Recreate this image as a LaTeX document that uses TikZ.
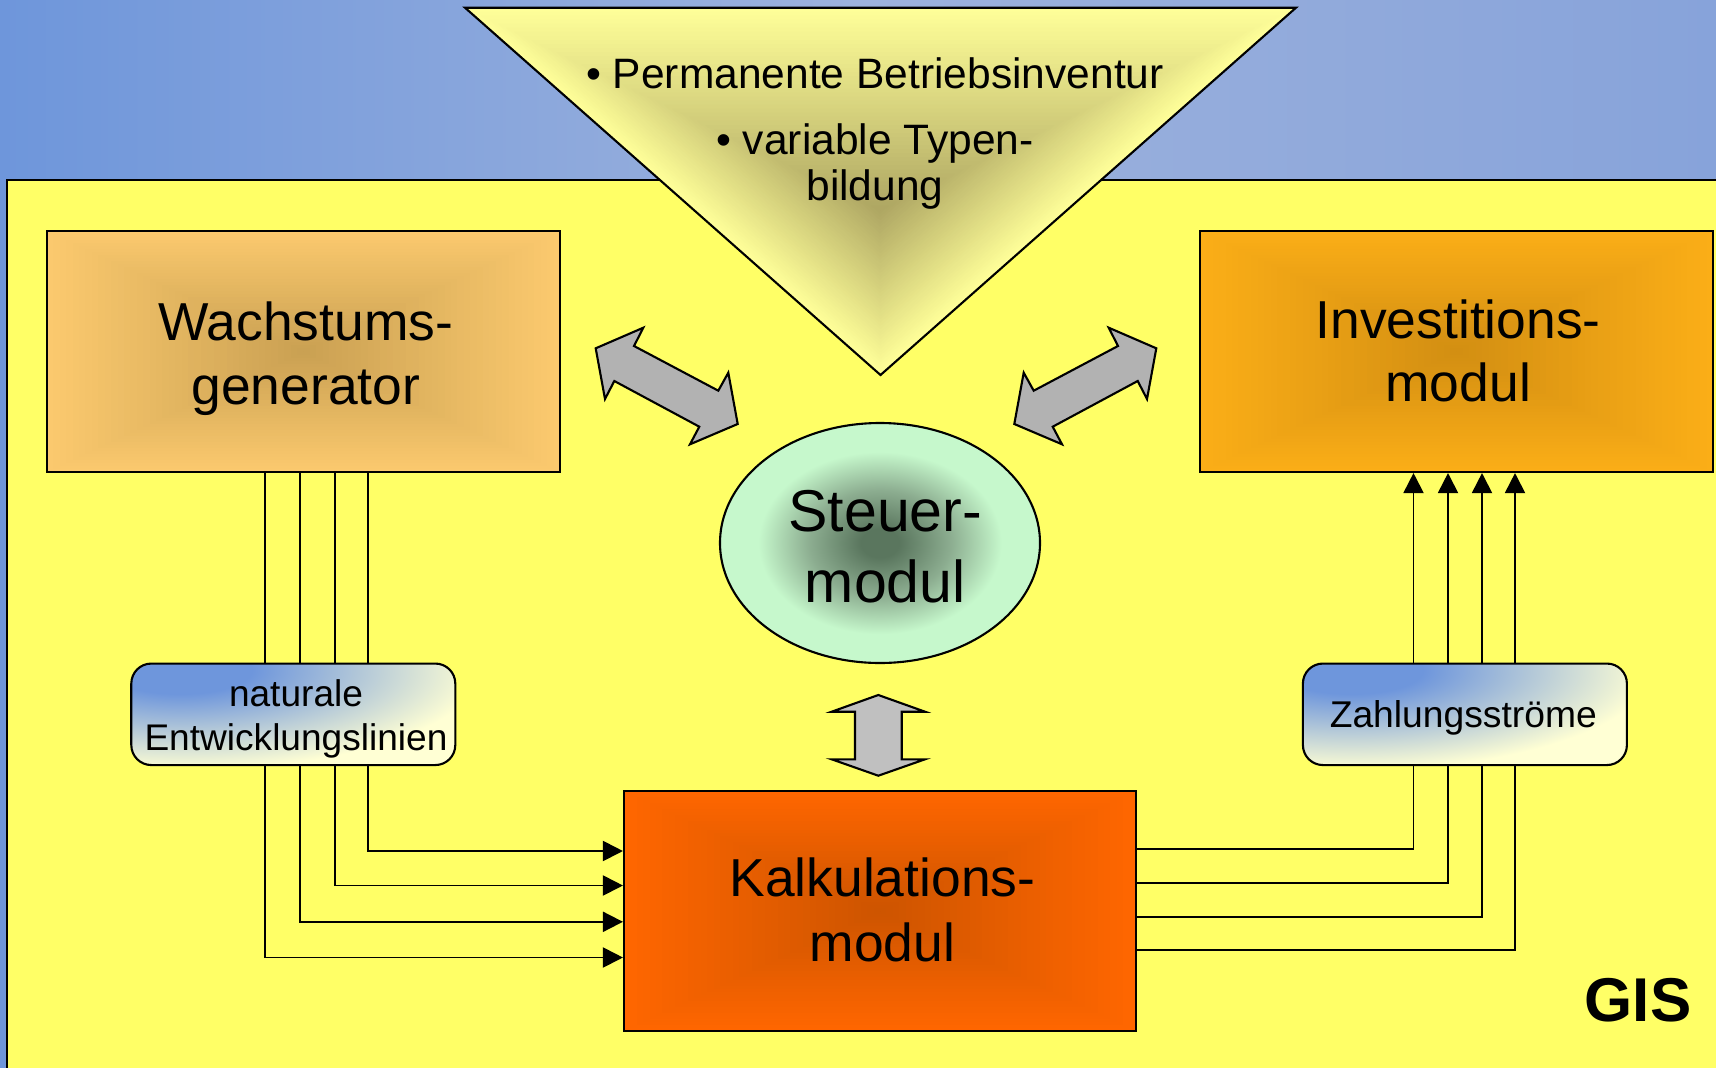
\documentclass[tikz,border=0pt]{standalone}
\usepackage{fontspec}
\setmainfont{Liberation Sans}
\usetikzlibrary{arrows.meta,calc,shapes.geometric}

\definecolor{bgL}{HTML}{6E96DB}
\definecolor{bgM}{HTML}{9DB2DD}
\definecolor{bgR}{HTML}{87A3DA}
\definecolor{panel}{HTML}{FFFF66}
\definecolor{trilight}{HTML}{FFFF99}
\definecolor{tridark}{HTML}{ADA562}
\definecolor{wlight}{HTML}{FBC96E}
\definecolor{wdark}{HTML}{C9A052}
\definecolor{ilight}{HTML}{FBAE17}
\definecolor{idark}{HTML}{D28E12}
\definecolor{klight}{HTML}{FF6600}
\definecolor{kdark}{HTML}{CC5400}
\definecolor{stdark}{HTML}{5A765E}
\definecolor{stmid}{HTML}{8CAD90}
\definecolor{stlight}{HTML}{C6F8CC}
\definecolor{bxblue}{HTML}{6E96DC}
\definecolor{bxcream}{HTML}{FFFFD4}
\definecolor{arrowgray}{HTML}{B2B2B2}
\definecolor{arrowgrayb}{HTML}{C0C0C0}

\pgfdeclareradialshading{steuershade}{\pgfpoint{0bp}{0bp}}{color(0bp)=(stdark); color(3bp)=(stdark); color(11bp)=(stmid); color(19bp)=(stlight); color(50bp)=(stlight)}
\pgfdeclareradialshading{boxshade}{\pgfpoint{0bp}{0bp}}{color(0bp)=(bxblue); color(6bp)=(bxblue); color(25bp)=(bxcream); color(50bp)=(bxcream)}

\newcommand{\rectgrad}[6]{%
  \foreach \i in {0,...,40}{%
    \pgfmathsetmacro\s{1-\i/40}%
    \pgfmathtruncatemacro\p{\i*2.5}%
    \fill[#6!\p!#5] ({#1-#3*\s},{#2-#4*\s}) rectangle ({#1+#3*\s},{#2+#4*\s});
  }%
}

\tikzset{
  boxline/.style={draw=black, line width=0.6pt},
  modbox/.style={boxline, rectangle, inner sep=0pt},
  smallbox/.style={boxline, rectangle, rounded corners=2mm, inner sep=0pt, minimum width=32.4mm, minimum height=10.15mm},
  bigtxt/.style={anchor=base, inner sep=0pt, font=\fontsize{15.2}{18}\selectfont},
  steuertxt/.style={anchor=base, inner sep=0pt, font=\fontsize{16.8}{20}\selectfont},
  tritxt/.style={anchor=base, inner sep=0pt, font=\fontsize{12.1}{14.5}\selectfont},
  smalltxt/.style={anchor=base, inner sep=0pt, font=\fontsize{10.55}{12.6}\selectfont},
  zahltxt/.style={anchor=base, inner sep=0pt, font=\fontsize{10.6}{12.7}\selectfont},
  gistxt/.style={anchor=base, inner sep=0pt, font=\fontsize{17.6}{21}\selectfont\bfseries},
  flow/.style={line width=0.55pt, -{Triangle[length=5.7pt,width=5.7pt]}},
  plainflow/.style={line width=0.55pt},
  blockarrow/.style={draw=black, line width=0.6pt, fill=arrowgray, line join=miter},
}

\begin{document}
\begin{tikzpicture}[x=0.1mm, y=-0.1mm]
\useasboundingbox (0,0) rectangle (1716,1067);

% background
\shade[left color=bgL, right color=bgR, middle color=bgM] (0,0) rectangle (1716,1067);
\fill[panel] (7,180) rectangle (1730,1080);
\draw[line width=0.6pt] (7,1080) -- (7,180) -- (1730,180);

% triangle with path gradient
\foreach \i in {0,...,50}{%
  \pgfmathsetmacro\s{1-\i/50}%
  \pgfmathtruncatemacro\p{\i*2}%
  \fill[tridark!\p!trilight] ({880-415*\s},{210-202.3*\s}) -- ({880+416*\s},{210-202.3*\s}) -- ({880+0.5*\s},{210+165*\s}) -- cycle;
}
\coordinate (T1) at (465,7.7);
\coordinate (T2) at (1296,7.7);
\coordinate (T3) at (880.5,375);
\draw[boxline, line join=miter] (T1) -- (T2) -- (T3) -- cycle;

\node[tritxt] (Ta) at (875,88.3) {• Permanente Betriebsinventur};
\node[tritxt] (Tb) at (875,154.5) {• variable Typen-};
\node[tritxt] (Tc) at (875,200) {bildung};

% module boxes
\rectgrad{303.5}{351.5}{256.5}{120.5}{wlight}{wdark}
\node[modbox, minimum width=51.3mm, minimum height=24.1mm] (W) at (303.5,351.5) {};
\node[bigtxt] (Wa) at (305.8,340.7) {Wachstums-};
\node[bigtxt] (Wb) at (305.8,404) {generator};

\rectgrad{1456.5}{351.5}{256.5}{120.5}{ilight}{idark}
\node[modbox, minimum width=51.3mm, minimum height=24.1mm] (I) at (1456.5,351.5) {};
\node[bigtxt] (Ia) at (1458.2,338.3) {Investitions-};
\node[bigtxt] (Ib) at (1458.2,401.7) {modul};

\rectgrad{880}{911}{256}{120}{klight}{kdark}
\node[modbox, minimum width=51.2mm, minimum height=24mm] (K) at (880,911) {};
\node[bigtxt] (Ka) at (882.4,896.3) {Kalkulations-};
\node[bigtxt] (Kb) at (882.4,961) {modul};

% Steuermodul
\node[ellipse, boxline, shade, shading=steuershade, minimum width=32mm, minimum height=24mm, inner sep=0pt] (S) at (880,543) {};
\node[steuertxt] (Sa) at (885.3,531.7) {Steuer-};
\node[steuertxt] (Sb) at (885.3,602.7) {modul};

% small boxes
\fill[bxcream, rounded corners=2mm] (131.5,663.5) rectangle (455,765);
\begin{scope}
  \clip[rounded corners=2mm] (131.5,663.5) rectangle (455,765);
  \shade[shading=boxshade] (180,670) ellipse [x radius=30mm, y radius=10mm];
\end{scope}
\node[smallbox] (N) at (293.3,714.3) {};
\node[smalltxt] (Na) at (296,706.5) {naturale};
\node[smalltxt] (Nb) at (296,750.3) {Entwicklungslinien};

\fill[bxcream, rounded corners=2mm] (1302.7,663.5) rectangle (1627,765);
\begin{scope}
  \clip[rounded corners=2mm] (1302.7,663.5) rectangle (1627,765);
  \shade[shading=boxshade] (1351,670) ellipse [x radius=30mm, y radius=10mm];
\end{scope}
\node[smallbox] (Z) at (1464.9,714.3) {};
\node[zahltxt] (Za) at (1463.3,727) {Zahlungsströme};

% block arrows
\draw[blockarrow] (595.7,348.3) -- (643.3,327.7) -- (634,346) -- (718.3,390.7) -- (728.3,372.7) -- (737.7,424) -- (690,444.3) -- (699.3,426.7) -- (614.3,381) -- (605,399) -- cycle;
\draw[blockarrow] (1156.3,348.3) -- (1108.7,327.7) -- (1118,346) -- (1033.7,390.7) -- (1023.7,372.7) -- (1014.3,424) -- (1062,444.3) -- (1052.7,426.7) -- (1137.7,381) -- (1147,399) -- cycle;
\draw[blockarrow, fill=arrowgrayb] (878.3,695) -- (925,711.7) -- (901.7,711.7) -- (901.7,759.3) -- (925,759.3) -- (878.3,775.7) -- (831.7,759.3) -- (855,759.3) -- (855,711.7) -- (831.7,711.7) -- cycle;

% connector guide coordinates
\coordinate (c1) at (265,0);
\coordinate (c2) at (300,0);
\coordinate (c3) at (335,0);
\coordinate (c4) at (368,0);
\coordinate (r1) at (0,851);
\coordinate (r2) at (0,885.5);
\coordinate (r3) at (0,921.8);
\coordinate (r4) at (0,957.5);
\coordinate (d1) at (1413.5,0);
\coordinate (d2) at (1448,0);
\coordinate (d3) at (1482,0);
\coordinate (d4) at (1515,0);
\coordinate (s1) at (0,849);
\coordinate (s2) at (0,883);
\coordinate (s3) at (0,917);
\coordinate (s4) at (0,950);

% left connectors
\foreach \c in {c1,c2,c3,c4}{
  \draw[plainflow] (W.south -| \c) -- (N.north -| \c);
}
\draw[flow] (N.south -| c4) |- (K.west |- r1);
\draw[flow] (N.south -| c3) |- (K.west |- r2);
\draw[flow] (N.south -| c2) |- (K.west |- r3);
\draw[flow] (N.south -| c1) |- (K.west |- r4);

% right connectors
\draw[plainflow] (K.east |- s1) -| (Z.south -| d1);
\draw[plainflow] (K.east |- s2) -| (Z.south -| d2);
\draw[plainflow] (K.east |- s3) -| (Z.south -| d3);
\draw[plainflow] (K.east |- s4) -| (Z.south -| d4);
\foreach \d in {d1,d2,d3,d4}{
  \draw[flow] (Z.north -| \d) -- (I.south -| \d);
}

\node[gistxt] (G) at (1638,1021) {GIS};
\end{tikzpicture}
\end{document}
